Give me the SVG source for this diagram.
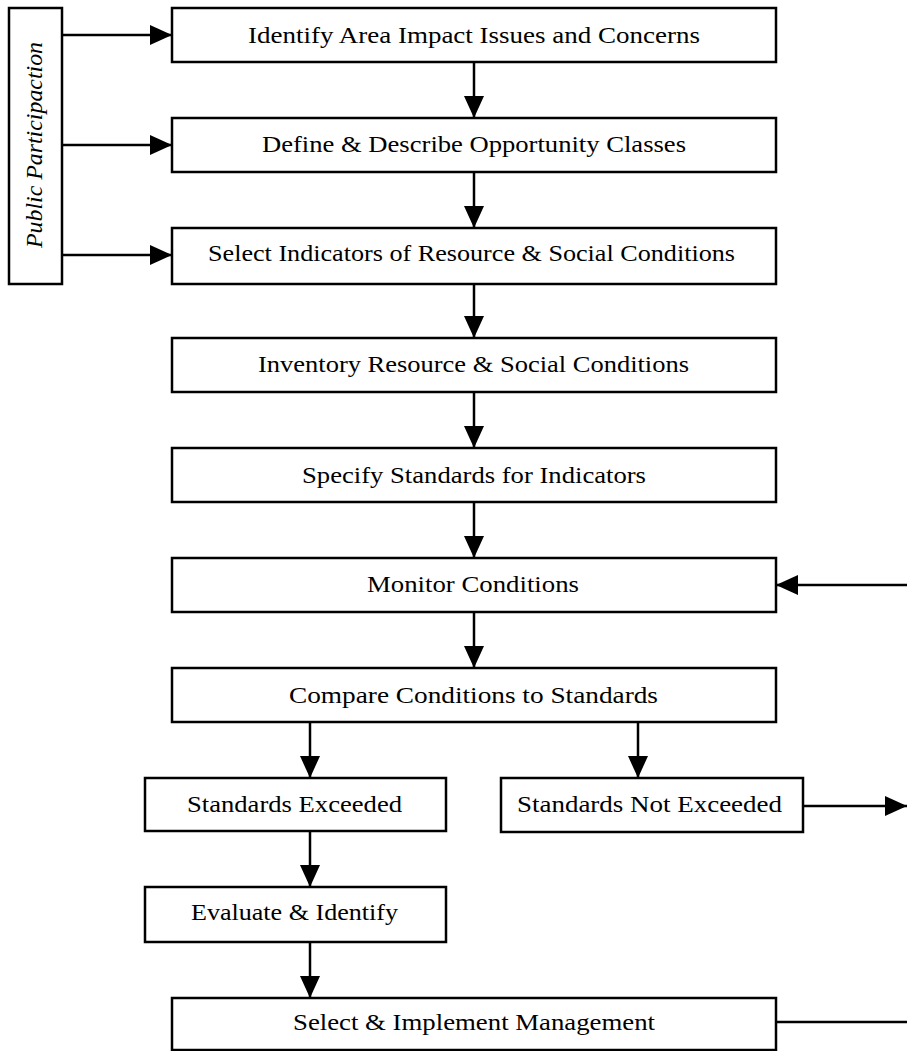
<svg xmlns="http://www.w3.org/2000/svg" width="907" height="1051" viewBox="0 0 907 1051">
<style>
.box{fill:#fff;stroke:#000;stroke-width:2.5}
.t{font-family:"Liberation Serif","DejaVu Serif",serif;font-size:24px;fill:#000}
.c{stroke:#000;stroke-width:2.5;fill:none}
</style>
<defs>
<marker id="a" viewBox="0 0 22 20" refX="22" refY="10" markerWidth="22" markerHeight="20" orient="auto" markerUnits="userSpaceOnUse">
<path d="M0,0 L22,10 L0,20 Z" fill="#000"/>
</marker>
</defs>
<rect width="907" height="1051" fill="#fff"/>
<g id="connectors">
<line class="c" x1="62" y1="35" x2="172" y2="35" stroke-width="3" marker-end="url(#a)"/>
<line class="c" x1="62" y1="145" x2="172" y2="145" stroke-width="2" marker-end="url(#a)"/>
<line class="c" x1="62" y1="255" x2="172" y2="255" stroke-width="2" marker-end="url(#a)"/>
<line class="c" x1="474" y1="62" x2="474" y2="118" marker-end="url(#a)"/>
<line class="c" x1="474" y1="172" x2="474" y2="228" marker-end="url(#a)"/>
<line class="c" x1="474" y1="284" x2="474" y2="338" marker-end="url(#a)"/>
<line class="c" x1="474" y1="392" x2="474" y2="448" marker-end="url(#a)"/>
<line class="c" x1="474" y1="502" x2="474" y2="558" marker-end="url(#a)"/>
<line class="c" x1="474" y1="612" x2="474" y2="668" marker-end="url(#a)"/>
<line class="c" x1="907" y1="585" x2="776" y2="585" marker-end="url(#a)"/>
<line class="c" x1="310" y1="722" x2="310" y2="778" stroke-width="3" marker-end="url(#a)"/>
<line class="c" x1="638" y1="722" x2="638" y2="778" stroke-width="3" marker-end="url(#a)"/>
<line class="c" x1="803" y1="806" x2="907" y2="806" stroke-width="3" marker-end="url(#a)"/>
<line class="c" x1="310" y1="831" x2="310" y2="887" stroke-width="3" marker-end="url(#a)"/>
<line class="c" x1="310" y1="942" x2="310" y2="998" stroke-width="3" marker-end="url(#a)"/>
<line class="c" x1="776" y1="1022" x2="907" y2="1022"/>
</g>
<g id="public">
<rect class="box" x="9" y="8" width="53" height="276"/>
<text class="t" transform="translate(42,248) rotate(-90)" font-style="italic" textLength="206" lengthAdjust="spacingAndGlyphs">Public Participaction</text>
</g>
<g id="n1"><rect class="box" x="172" y="8" width="604" height="54"/><text class="t" x="248" y="43" textLength="452" lengthAdjust="spacingAndGlyphs">Identify Area Impact Issues and Concerns</text></g>
<g id="n2"><rect class="box" x="172" y="118" width="604" height="54"/><text class="t" x="262" y="152" textLength="424" lengthAdjust="spacingAndGlyphs">Define &amp; Describe Opportunity Classes</text></g>
<g id="n3"><rect class="box" x="172" y="228" width="604" height="56"/><text class="t" x="208" y="261" textLength="527" lengthAdjust="spacingAndGlyphs">Select Indicators of Resource &amp; Social Conditions</text></g>
<g id="n4"><rect class="box" x="172" y="338" width="604" height="54"/><text class="t" x="258" y="372" textLength="431" lengthAdjust="spacingAndGlyphs">Inventory Resource &amp; Social Conditions</text></g>
<g id="n5"><rect class="box" x="172" y="448" width="604" height="54"/><text class="t" x="302" y="483" textLength="344" lengthAdjust="spacingAndGlyphs">Specify Standards for Indicators</text></g>
<g id="n6"><rect class="box" x="172" y="558" width="604" height="54"/><text class="t" x="367" y="592" textLength="212" lengthAdjust="spacingAndGlyphs">Monitor Conditions</text></g>
<g id="n7"><rect class="box" x="172" y="668" width="604" height="54"/><text class="t" x="289" y="703" textLength="369" lengthAdjust="spacingAndGlyphs">Compare Conditions to Standards</text></g>
<g id="n8"><rect class="box" x="145" y="778" width="301" height="53"/><text class="t" x="187" y="812" textLength="215" lengthAdjust="spacingAndGlyphs">Standards Exceeded</text></g>
<g id="n9"><rect class="box" x="501" y="778" width="302" height="54"/><text class="t" x="517" y="812" textLength="265" lengthAdjust="spacingAndGlyphs">Standards Not Exceeded</text></g>
<g id="n10"><rect class="box" x="145" y="887" width="301" height="55"/><text class="t" x="191" y="920" textLength="207" lengthAdjust="spacingAndGlyphs">Evaluate &amp; Identify</text></g>
<g id="n11"><rect class="box" x="172" y="998" width="604" height="52"/><text class="t" x="293" y="1030" textLength="362" lengthAdjust="spacingAndGlyphs">Select &amp; Implement Management</text></g>
</svg>
